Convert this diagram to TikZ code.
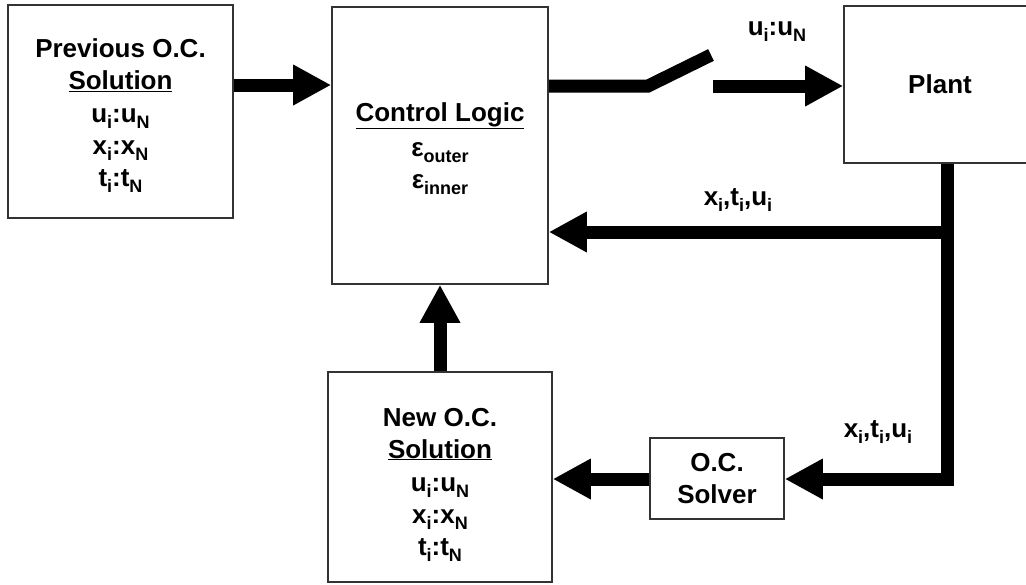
\documentclass[tikz,border=0pt]{standalone}
\usepackage{fontspec}
\setmainfont{Liberation Sans}
\usepackage{tikz}
\usetikzlibrary{positioning,arrows.meta}
\newcommand{\lowsub}[1]{\raisebox{-6pt}{\fontsize{18}{18}\selectfont #1}}

\begin{document}
\begin{tikzpicture}[
        x=1pt, y=-1pt,
        blockbox/.style={draw=black!80, line width=1.6pt, align=center, inner sep=0pt,
                font=\fontsize{26}{32}\selectfont\bfseries},
        sigtext/.style={anchor=base, inner sep=0pt, font=\fontsize{26}{32}\selectfont\bfseries},
        bigline/.style={line width=13pt},
        bigarrow/.style={line width=13pt, -{Triangle[length=38pt,width=38pt]}}
        ]
        \useasboundingbox (0,0) rectangle (1026,584);
        \node[blockbox, minimum width=225pt, minimum height=213pt] (prev)   at (120.5,111.5)
                {\rule{0pt}{27pt}Previous O.C.\\ \underline{Solution}\\[1pt] u\lowsub{i}:u\lowsub{N}\\ x\lowsub{i}:x\lowsub{N}\\ t\lowsub{i}:t\lowsub{N}};
        \node[blockbox, minimum width=216pt, minimum height=277pt] (ctrl)   at (440,145.5)
                {\rule{0pt}{25pt}\underline{Control Logic}\\[3pt] ε\lowsub{outer}\\ ε\lowsub{inner}};
        \node[blockbox, minimum width=192pt, minimum height=157pt] (plant)  at (940,84.5)  {Plant};
        \node[blockbox, minimum width=224pt, minimum height=210pt] (newsol) at (440,477)
                {\rule{0pt}{33pt}New O.C.\\ \underline{Solution}\\[1pt] u\lowsub{i}:u\lowsub{N}\\ x\lowsub{i}:x\lowsub{N}\\ t\lowsub{i}:t\lowsub{N}};
        \node[blockbox, minimum width=134pt, minimum height=81pt]  (solver) at (717,478.5) {O.C.\\ Solver};

        \coordinate (sw)     at (648,86);
        \coordinate (swtip)  at (711,55);
        \coordinate (swout)  at (713,86);
        \coordinate (tap)    at (947,232);
        \coordinate (corner) at (947,479);

        \node[sigtext] (lbl_u)     at (777,35)  {u\lowsub{i}:u\lowsub{N}};
        \node[sigtext] (lbl_fb)    at (738,205) {x\lowsub{i},t\lowsub{i},u\lowsub{i}};
        \node[sigtext] (lbl_solve) at (878,437) {x\lowsub{i},t\lowsub{i},u\lowsub{i}};

        \draw[bigarrow] (prev.east |- 0,85) -- (ctrl.west |- 0,85);
        \draw[bigline]  (ctrl.east |- sw) -- (sw) -- (swtip);
        \draw[bigarrow] (swout) -- (plant.west |- swout);
        \draw[bigarrow] (plant.south -| corner) -- (corner) -- (solver.east |- corner);
        \draw[bigarrow] (tap) -- (ctrl.east |- tap);
        \draw[bigarrow] (solver.west |- corner) -- (newsol.east |- corner);
        \draw[bigarrow] (newsol.north) -- (ctrl.south);
    \end{tikzpicture}
\end{document}
